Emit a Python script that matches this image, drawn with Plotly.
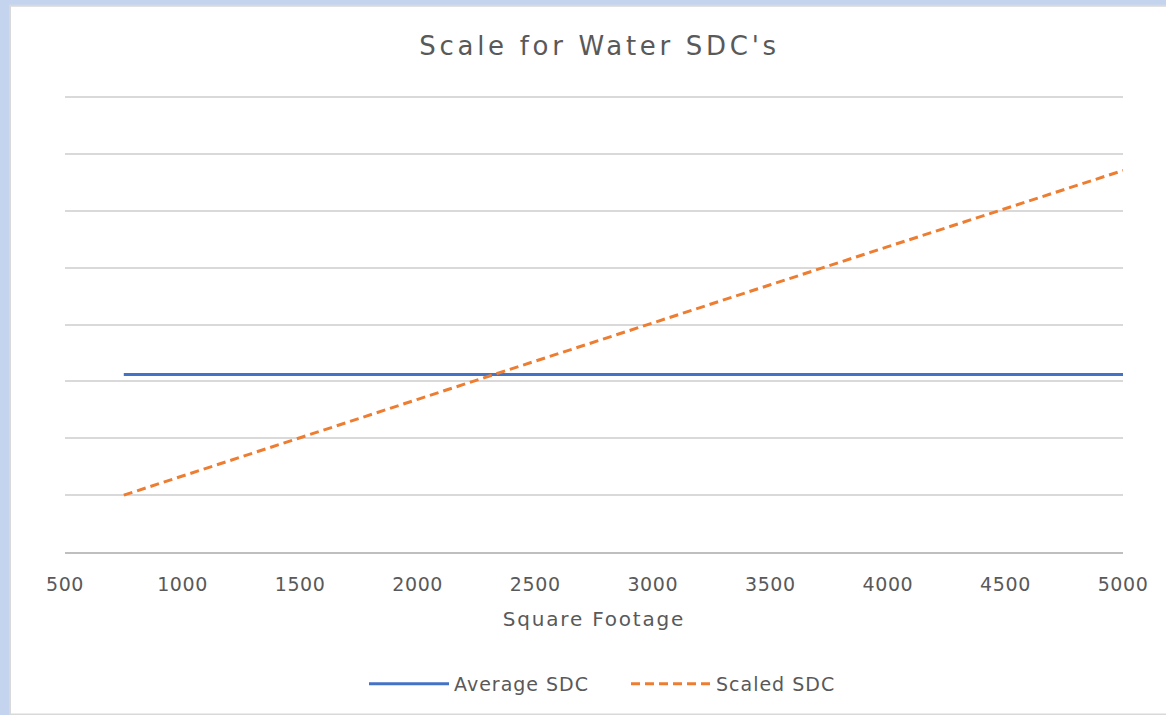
import plotly.graph_objects as go

# Data
square_footage = [750, 1000, 1500, 2000, 2500, 3000, 3500, 4000, 4500, 5000]
average_sdc = [3120, 3120, 3120, 3120, 3120, 3120, 3120, 3120, 3120, 3120]
scaled_sdc = [1000, 1340, 2010, 2685, 3360, 4030, 4700, 5370, 6040, 6710]
x_ticks = [500, 1000, 1500, 2000, 2500, 3000, 3500, 4000, 4500, 5000]

W, H = 1166, 715
L, R, T, B = 65, 43, 96, 159
pw, ph = W - L - R, H - T - B

def px(x):
    return (x - L) / pw

def py(y):
    return 1 - (y - T) / ph

FONT = "DejaVu Sans"
GREY = "#595959"

fig = go.Figure()
fig.add_trace(go.Scatter(x=square_footage, y=average_sdc, mode="lines", name="Average SDC",
                         line=dict(color="#4472c4", width=3)))
fig.add_trace(go.Scatter(x=square_footage, y=scaled_sdc, mode="lines", name="Scaled SDC",
                         line=dict(color="#ed7d31", width=3, dash="9px,5px")))

fig.update_layout(
    width=W, height=H,
    margin=dict(l=L, r=R, t=T, b=B),
    paper_bgcolor="#c5d4ee",
    plot_bgcolor="white",
    font=dict(family=FONT, color=GREY),
    title=dict(text="Scale for Water SDC's", x=px(609), xanchor="center", y=1 - 46 / H, yanchor="middle",
               font=dict(size=26, color=GREY, family=FONT)),
    xaxis=dict(range=[500, 5000], tickvals=x_ticks, showgrid=False, zeroline=False,
               showline=True, linecolor="#bfbfbf", linewidth=2,
               tickfont=dict(size=19, color=GREY), ticks="", ticklabelstandoff=14,
               title=dict(text="Square Footage", font=dict(size=20, color=GREY), standoff=18)),
    yaxis=dict(range=[0, 8020], dtick=1000, showgrid=True, gridcolor="#d9d9d9", gridwidth=2,
               zeroline=False, showticklabels=False, ticks=""),
    legend=dict(orientation="h", x=px(364), xanchor="left", y=py(689), yanchor="middle",
                font=dict(size=19, color=GREY), bgcolor="rgba(0,0,0,0)", itemwidth=80,
                entrywidth=167),
    showlegend=True,
    shapes=[
        dict(type="rect", xref="paper", yref="paper", layer="below",
             x0=px(10), x1=px(1170), y0=py(5), y1=py(720),
             fillcolor="white", line=dict(color="#d9d9d9", width=2)),
    ],
)

post = """
document.body.style.margin = '0';
var gd = document.getElementById('{plot_id}');
function spread() {
  gd.querySelectorAll('.gtitle').forEach(function (t) { t.style.letterSpacing = '3.7px'; });
  gd.querySelectorAll('.xtitle').forEach(function (t) { t.style.letterSpacing = '1.8px'; });
  gd.querySelectorAll('.xtick text').forEach(function (t) { t.style.letterSpacing = '0.6px'; });
  gd.querySelectorAll('.legendtext').forEach(function (t) { t.style.letterSpacing = '1px'; });
}
spread();
setTimeout(spread, 50);
gd.on && gd.on('plotly_afterplot', spread);
"""

fig.write_html("out.html", post_script=post, config={"displayModeBar": False})
